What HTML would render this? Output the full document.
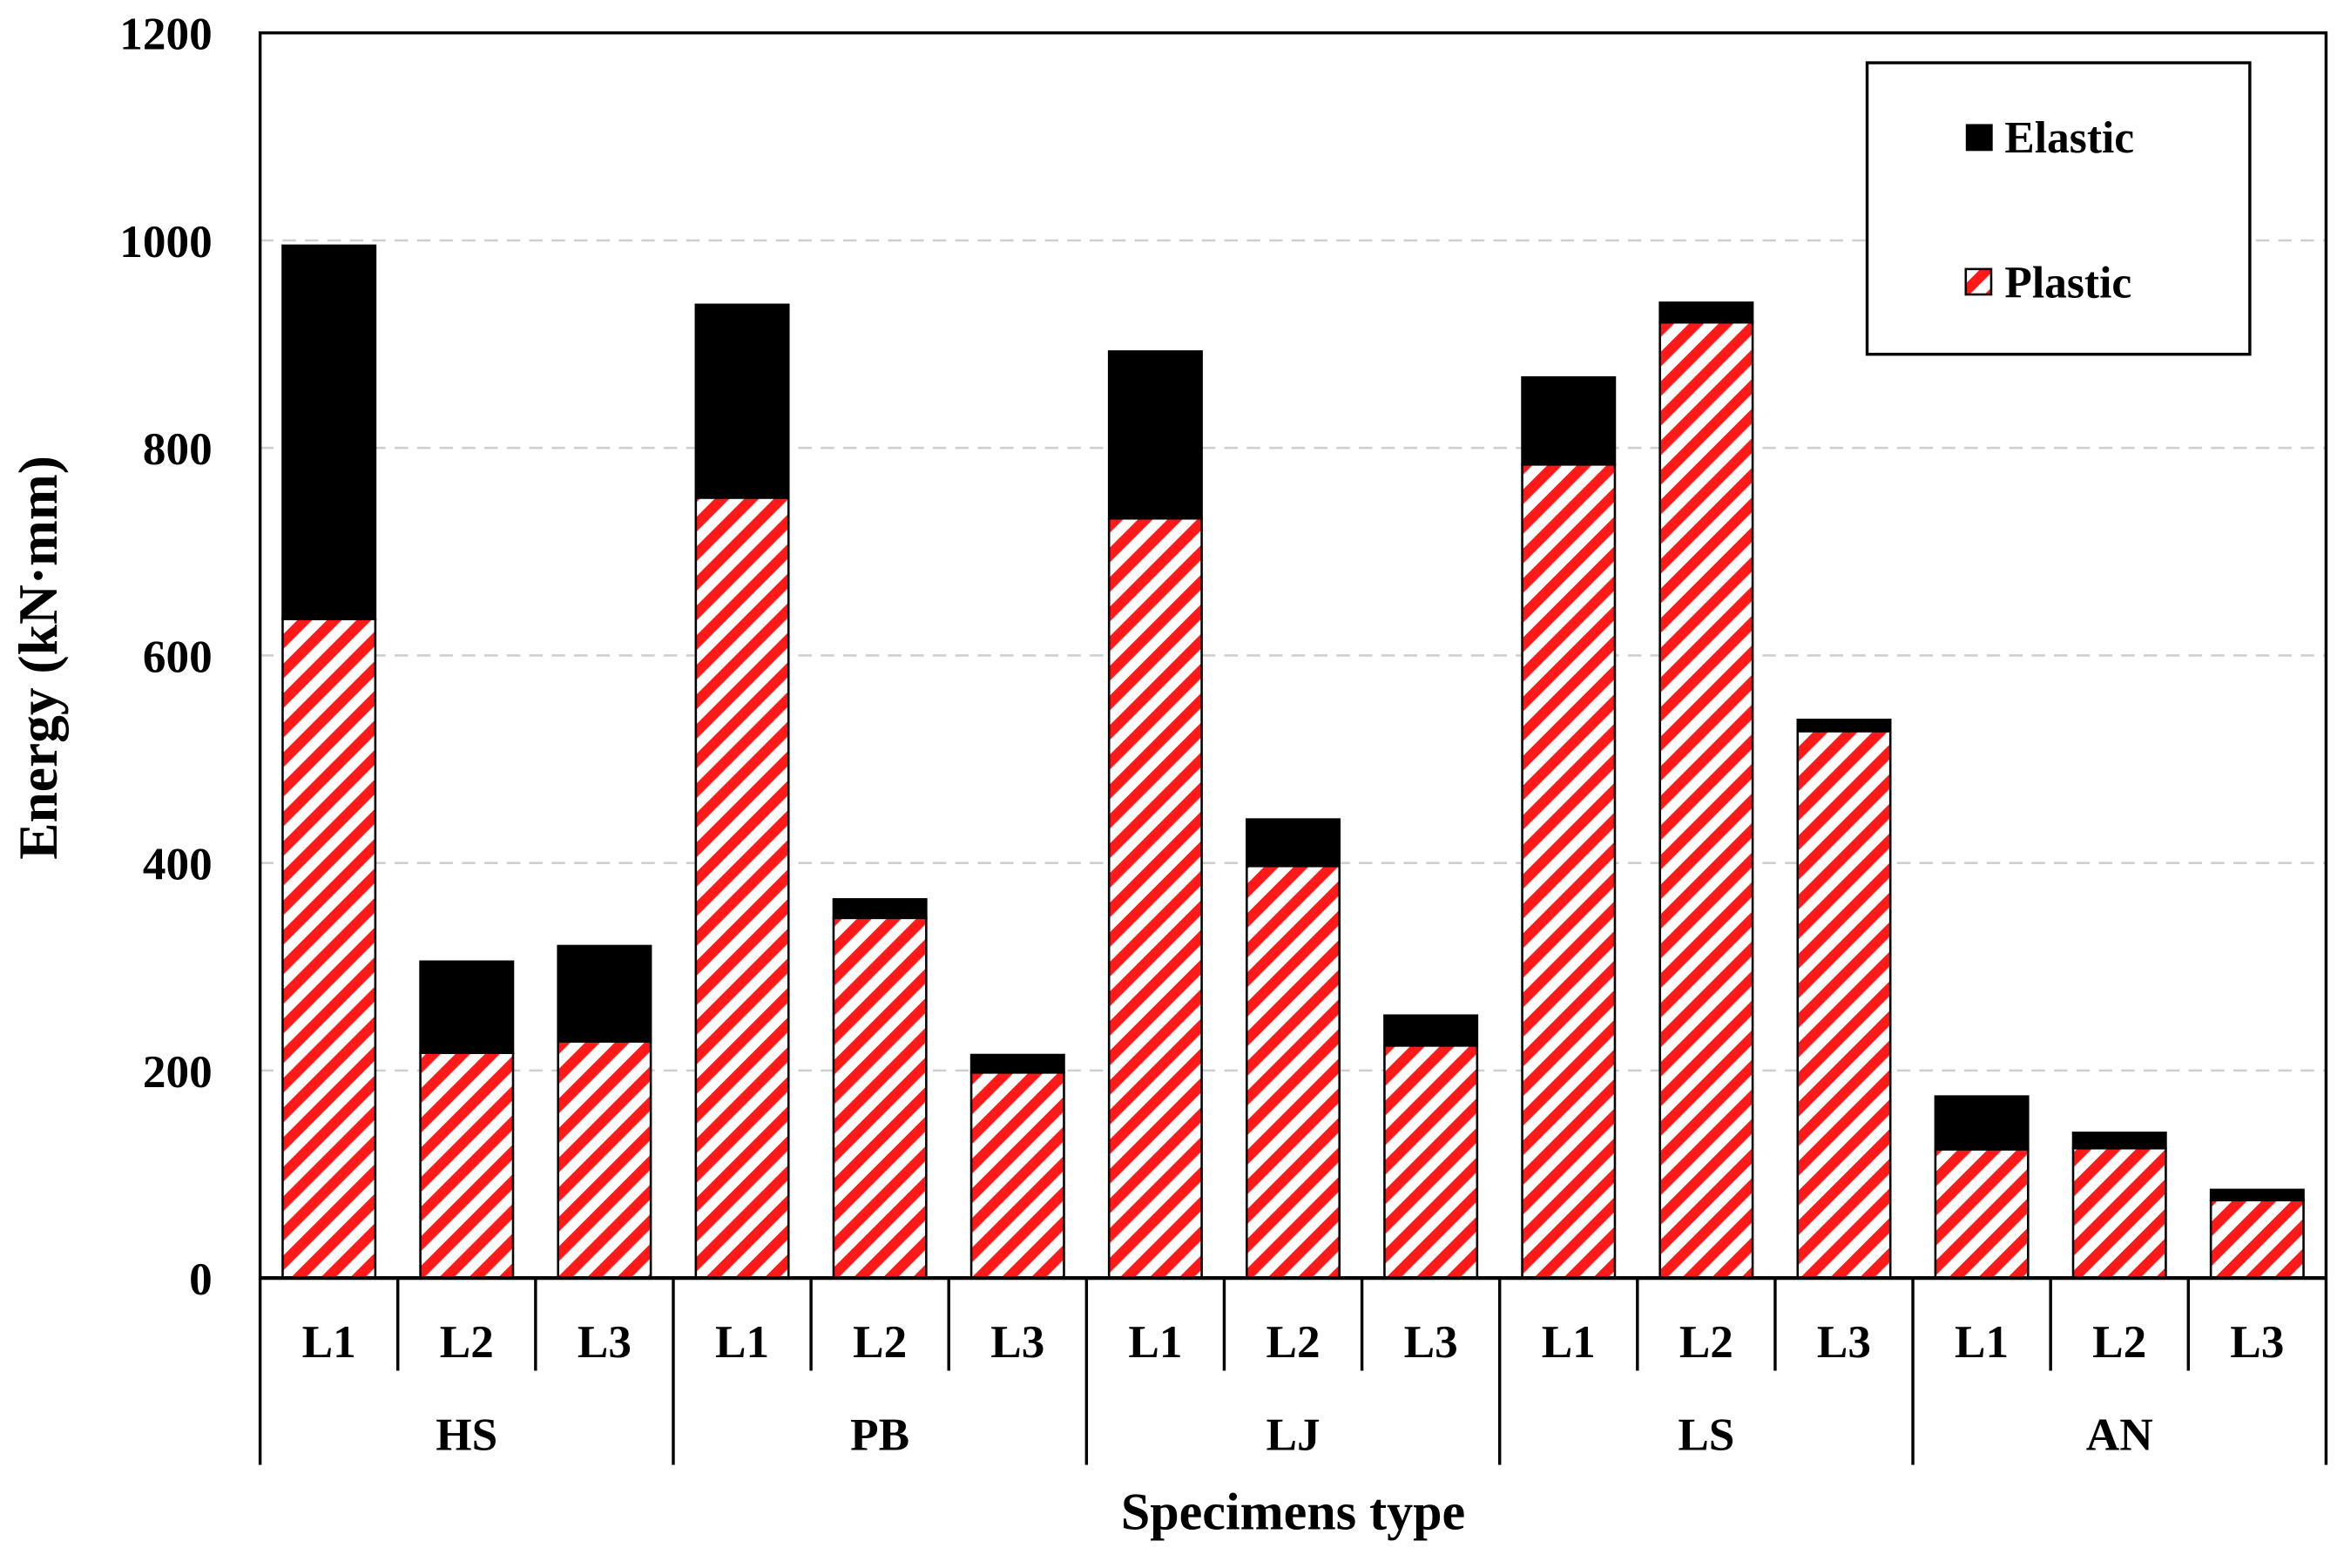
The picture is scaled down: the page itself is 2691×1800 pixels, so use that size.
<!DOCTYPE html>
<html><head><meta charset="utf-8">
<style>
html,body{margin:0;padding:0;background:#fff;}
svg{display:block;}
text{font-family:"Liberation Serif",serif;font-weight:bold;fill:#000;}
</style></head>
<body>
<svg id="chart" width="2691" height="1800" viewBox="0 0 1568 1049" preserveAspectRatio="none" xmlns="http://www.w3.org/2000/svg">
<defs>
<pattern id="hatch" patternUnits="userSpaceOnUse" width="14" height="14" patternTransform="rotate(45)">
<rect width="14" height="14" fill="#fff"/>
<rect width="7" height="14" fill="#ff1a1a"/>
</pattern>
</defs>
<g id="grid"></g>
<g id="bars"></g>
<g id="axes"></g>
</svg>
<script>
const groups = ["HS","PB","LJ","LS","AN"];
const subs = ["L1","L2","L3"];
const plastic = [635,217,228, 752,347,198, 732,397,224, 784,921,527, 124,125,75];
const elastic = [360,88,92, 186,18,17, 161,45,29, 84,19,11, 51,15,10];
const yTicks = [0,200,400,600,800,1000,1200];

const NS="http://www.w3.org/2000/svg";
const L=174,R=1556,T=22,B=855,YMAX=1200;
const y=v=>B-(v/YMAX)*(B-T);
const n=plastic.length, step=(R-L)/n, bw=62;
const xc=i=>L+step*(i+0.5);
function mk(tag,attrs,parent,txt){const e=document.createElementNS(NS,tag);for(const k in attrs)e.setAttribute(k,attrs[k]);if(txt!==undefined)e.textContent=txt;parent.appendChild(e);return e;}
const grid=document.getElementById('grid'),bars=document.getElementById('bars'),axes=document.getElementById('axes');

yTicks.forEach(t=>{
  if(t>0&&t<YMAX){const g=mk('line',{x1:L,x2:R,y1:y(t),y2:y(t),stroke:'#cfcfcf','stroke-width':1.5,'stroke-dasharray':'9,6'},grid);
  
  }
  const tx=mk('text',{x:142,y:y(t)+11,'text-anchor':'end','font-size':31},axes,String(t));
  
  
});

for(let i=0;i<n;i++){
  const x=xc(i)-bw/2, p=plastic[i], e=elastic[i];
  const pr=mk('rect',{x:x,y:y(p),width:bw,height:B-y(p),fill:'url(#hatch)',stroke:'#000','stroke-width':1.5},bars);
  
  
  const er=mk('rect',{x:x,y:y(p+e),width:bw,height:y(p)-y(p+e),fill:'#000',stroke:'#000','stroke-width':1.5},bars);
  
  
  const st=mk('text',{x:xc(i),y:908,'text-anchor':'middle','font-size':31},axes,subs[i%3]);
  
  
}
const fr=mk('rect',{x:L,y:T,width:R-L,height:B-T,fill:'none',stroke:'#000','stroke-width':2},axes);


mk('line',{x1:L,x2:R,y1:B,y2:B,stroke:'#000','stroke-width':2.5},axes);
for(let i=0;i<=n;i++){
  const x=L+step*i, long=(i%3===0);
  mk('line',{x1:x,x2:x,y1:B,y2:long?980:917,stroke:'#000','stroke-width':2},axes);
}
groups.forEach((g,k)=>{
  const t=mk('text',{x:L+step*(3*k+1.5),y:970,'text-anchor':'middle','font-size':31},axes,g);
  
  
});
const xt=mk('text',{x:865,y:1023,'text-anchor':'middle','font-size':35},axes,'Specimens type');


const yt=mk('text',{x:0,y:0,'text-anchor':'middle','font-size':37,transform:'translate(38,440) rotate(-90)'},axes,'Energy (kN·mm)');


const lg=mk('g',{},axes);


mk('rect',{x:1249,y:42,width:256,height:195,fill:'#fff',stroke:'#000','stroke-width':2},lg);
const le1=mk('rect',{x:1315,y:83,width:18,height:18,fill:'#000'},lg);


mk('text',{x:1341,y:102,'font-size':30},lg,'Elastic');
const le2=mk('rect',{x:1315,y:180,width:17,height:17,fill:'url(#hatch)',stroke:'#000','stroke-width':1.5},lg);


mk('text',{x:1341,y:199,'font-size':30},lg,'Plastic');
</script>
</body></html>
